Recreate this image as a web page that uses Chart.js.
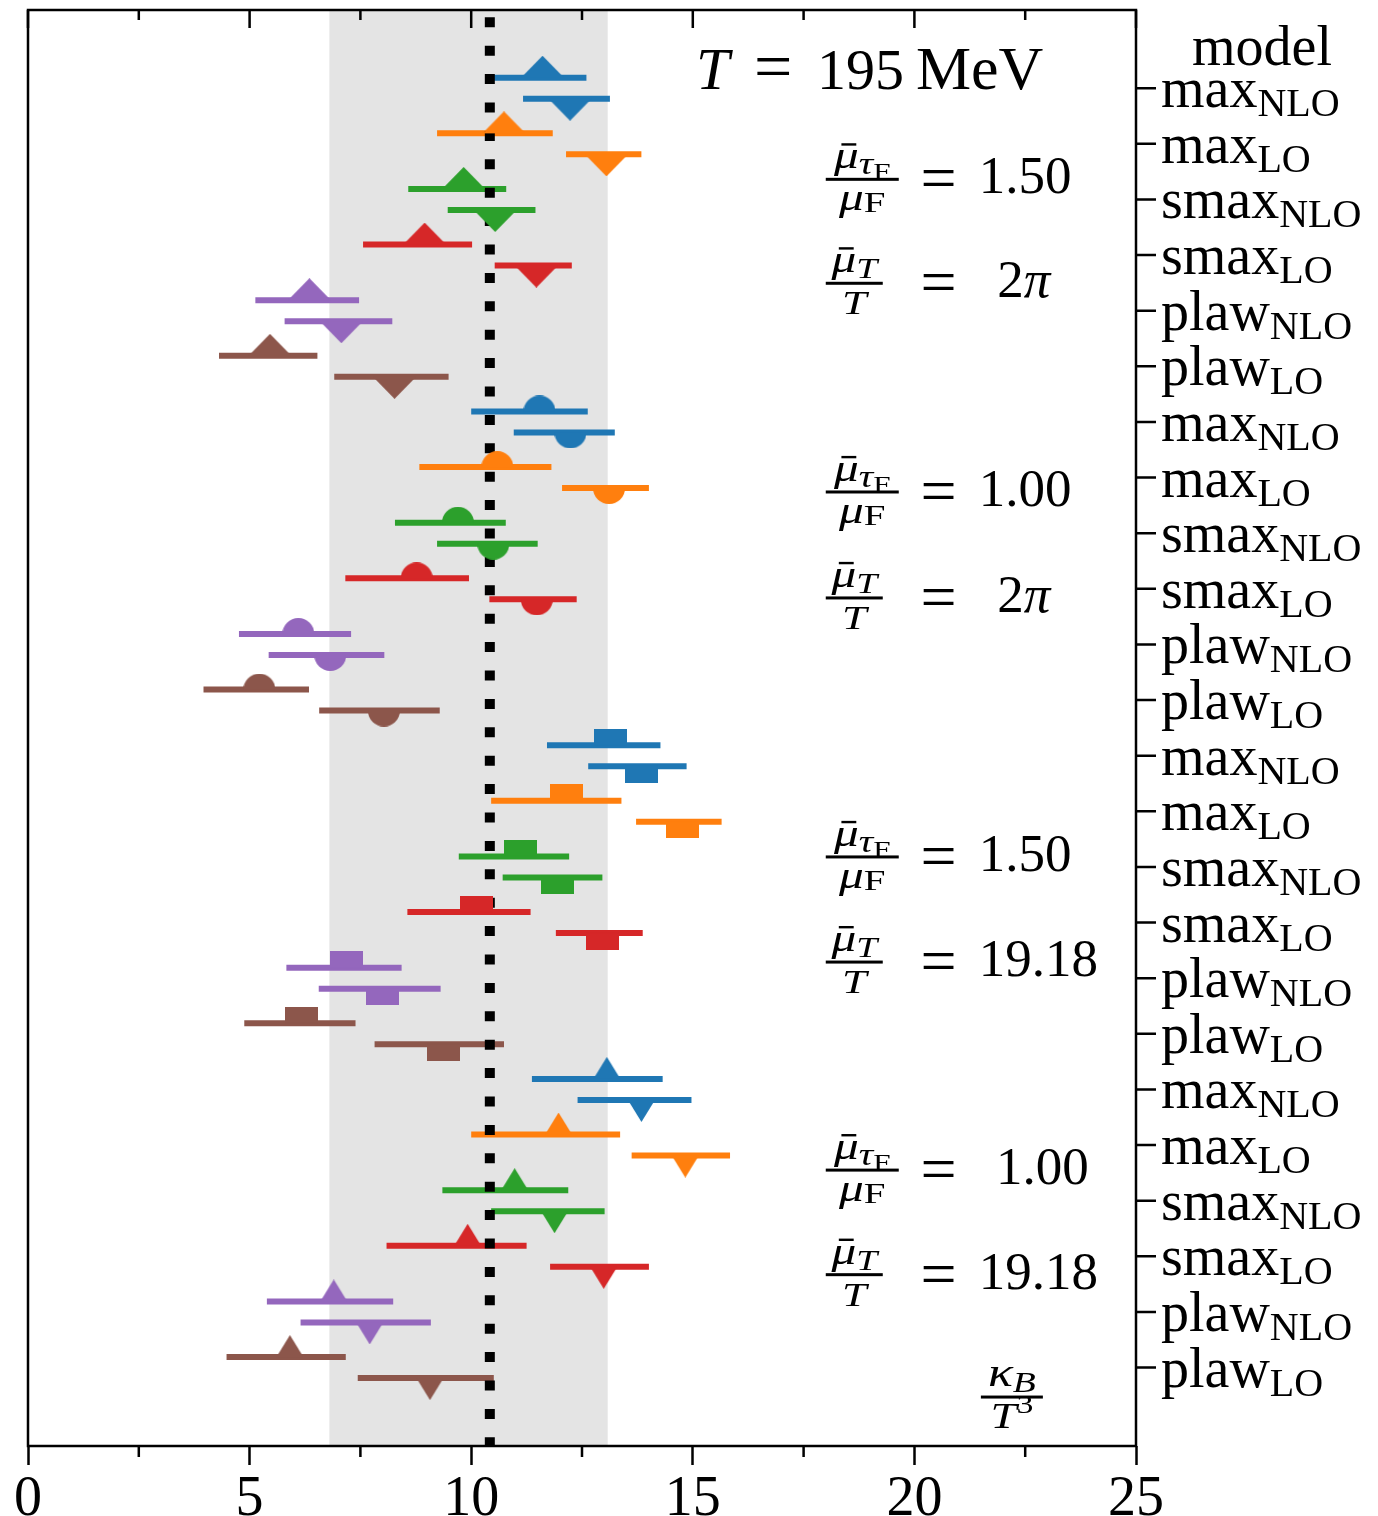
<!DOCTYPE html>
<html>
<head>
<meta charset="utf-8">
<script src="https://cdn.jsdelivr.net/npm/chart.js@4.4.0/dist/chart.umd.min.js"></script>
<style>
  html, body { margin: 0; padding: 0; background: #fff; }
  canvas { display: block; }
</style>
</head>
<body>
<canvas id="kappaChart" width="1378" height="1516"></canvas>
<script>
// models on the right axis (name + subscript), one colour each
const modelBase = ['max', 'max', 'smax', 'smax', 'plaw', 'plaw'];
const modelSub = ['NLO', 'LO', 'NLO', 'LO', 'NLO', 'LO'];
const modelColors = ['#1f77b4', '#ff7f0e', '#2ca02c', '#d62728', '#9467bd', '#8c564b'];

// x axis
const xTicks = [0, 5, 10, 15, 20, 25];
const xMinorTicks = [2.5, 7.5, 12.5, 17.5, 22.5];

// grey band and dotted reference value
const bandLo = 6.80;
const bandHi = 13.08;
const refLine = 10.42;

// 4 panels, 12 entries each: per model first the "up" marker then the "down" marker
// panel 1 : carets
const p1Mid = [11.61, 12.23, 10.74, 13.05, 9.83, 10.54, 8.95, 11.47, 6.35, 7.07, 5.46, 8.27];
const p1Lo  = [10.46, 11.17, 9.23, 12.14, 8.58, 9.47, 7.56, 10.53, 5.13, 5.79, 4.31, 6.91];
const p1Hi  = [12.60, 13.13, 11.84, 13.84, 10.79, 11.45, 10.02, 12.27, 7.47, 8.22, 6.53, 9.49];
// panel 2 : half circles
const p2Mid = [11.54, 12.24, 10.59, 13.11, 9.70, 10.50, 8.77, 11.48, 6.10, 6.82, 5.22, 8.03];
const p2Lo  = [10.00, 10.96, 8.83, 12.05, 8.28, 9.23, 7.16, 10.41, 4.76, 5.43, 3.96, 6.57];
const p2Hi  = [12.63, 13.24, 11.81, 14.01, 10.78, 11.50, 9.95, 12.38, 7.29, 8.04, 6.34, 9.29];
// panel 3 : half squares
const p3Mid = [13.14, 13.84, 12.15, 14.77, 11.11, 11.94, 10.12, 12.96, 7.18, 7.99, 6.18, 9.37];
const p3Lo  = [11.71, 12.64, 10.45, 13.72, 9.72, 10.71, 8.56, 11.91, 5.83, 6.56, 4.88, 7.82];
const p3Hi  = [14.27, 14.86, 13.39, 15.65, 12.21, 12.96, 11.34, 13.87, 8.43, 9.31, 7.39, 10.74];
// panel 4 : narrow triangles
const p4Mid = [13.06, 13.84, 11.97, 14.83, 10.98, 11.88, 9.92, 12.99, 6.90, 7.71, 5.91, 9.07];
const p4Lo  = [11.37, 12.40, 10.00, 13.62, 9.35, 10.45, 8.09, 11.78, 5.39, 6.15, 4.48, 7.44];
const p4Hi  = [14.32, 14.97, 13.36, 15.84, 12.19, 13.01, 11.25, 14.01, 8.24, 9.09, 7.17, 10.51];

// parameter annotations per panel
const ratioTauF = ['1.50', '1.00', '1.50', '1.00'];
const ratioT = ['2π', '2π', '19.18', '19.18'];

const panelMid = [p1Mid, p2Mid, p3Mid, p4Mid];
const panelLo = [p1Lo, p2Lo, p3Lo, p4Lo];
const panelHi = [p1Hi, p2Hi, p3Hi, p4Hi];
const panelShape = ['caret', 'circle', 'square', 'tri'];

const yMin = -1.406, yMax = 24.41;
const pairOff = 0.189;
const FONT = '"Liberation Serif", "Times New Roman", serif';

function rowOf(p, j) {
  return p * 6 + Math.floor(j / 2) + (j % 2 ? pairOff : -pairOff);
}

// half markers as small canvases (center of canvas = data point)
function makeMarker(shape, down, color) {
  const c = document.createElement('canvas');
  let w, h;
  if (shape === 'caret') { w = 43; h = 44; }
  else if (shape === 'tri') { w = 27; h = 44; }
  else if (shape === 'circle') { w = 32; h = 32; }
  else { w = 33; h = 33; }
  c.width = w; c.height = h;
  const g = c.getContext('2d');
  g.fillStyle = color;
  g.beginPath();
  if (shape === 'caret' || shape === 'tri') {
    g.moveTo(0, h / 2);
    g.lineTo(w, h / 2);
    g.lineTo(w / 2, down ? h : 0);
  } else if (shape === 'circle') {
    if (down) g.arc(16, 16, 16, 0, Math.PI);
    else g.arc(16, 16, 16, Math.PI, 2 * Math.PI);
  } else {
    g.rect(0, down ? h / 2 : 0, w, h / 2);
  }
  g.closePath();
  g.fill();
  return c;
}

const datasets = [];

// error bars
panelMid.forEach((mids, p) => {
  mids.forEach((v, j) => {
    const y = rowOf(p, j);
    datasets.push({
      data: [{x: panelLo[p][j], y: y}, {x: panelHi[p][j], y: y}],
      showLine: true,
      borderColor: modelColors[Math.floor(j / 2)],
      borderWidth: 6,
      borderCapStyle: 'butt',
      pointRadius: 0,
      order: 3
    });
  });
});

// dotted reference line
datasets.push({
  data: [{x: refLine, y: yMin}, {x: refLine, y: yMax}],
  showLine: true,
  borderColor: '#000',
  borderWidth: 10,
  borderDash: [10, 18.4],
  borderDashOffset: 21.1,
  borderCapStyle: 'butt',
  pointRadius: 0,
  order: 2
});

// markers
panelMid.forEach((mids, p) => {
  datasets.push({
    data: mids.map((v, j) => ({x: v, y: rowOf(p, j)})),
    pointStyle: mids.map((v, j) => makeMarker(panelShape[p], j % 2 === 1, modelColors[Math.floor(j / 2)])),
    pointRadius: 5,
    showLine: false,
    order: 1
  });
});

// draw runs of text: [text, size, italic, dy, macron]; sx stretches horizontally
function textRuns(ctx, x, y, parts, draw, sx) {
  sx = sx || 1;
  let cx = x;
  parts.forEach(pt => {
    const [t, size, it, dy, bar] = pt;
    ctx.font = (it ? 'italic ' : '') + size + 'px ' + FONT;
    const w = ctx.measureText(t).width * sx;
    if (draw) {
      ctx.save();
      ctx.translate(cx, y + (dy || 0));
      ctx.scale(sx, 1);
      ctx.fillText(t, 0, 0);
      ctx.restore();
      if (bar) {
        ctx.fillRect(cx + w * 0.3, y + (dy || 0) - size * 0.66, w * 0.6, 2.4);
      }
    }
    cx += w;
  });
  return cx - x;
}

function drawFrac(ctx, x, yBar, w, num, den) {
  const sx = 1.3;
  const nw = textRuns(ctx, 0, 0, num, false, sx);
  const dw = textRuns(ctx, 0, 0, den, false, sx);
  ctx.fillRect(x, yBar - 1.5, w, 3);
  textRuns(ctx, x + (w - nw) / 2, yBar - 11, num, true, sx);
  textRuns(ctx, x + (w - dw) / 2, yBar + 31, den, true, sx);
}

const decor = {
  id: 'decor',
  beforeDatasetsDraw(chart) {
    const {ctx, chartArea: a, scales: {x}} = chart;
    ctx.save();
    ctx.fillStyle = 'rgb(228,228,228)';
    const x0 = x.getPixelForValue(bandLo), x1 = x.getPixelForValue(bandHi);
    ctx.fillRect(x0, a.top, x1 - x0, a.bottom - a.top);
    ctx.restore();
  },
  afterDraw(chart) {
    const {ctx, chartArea: a, scales: {x, y}} = chart;
    ctx.save();
    ctx.strokeStyle = '#000';
    ctx.fillStyle = '#000';
    ctx.lineWidth = 2.5;
    ctx.strokeRect(a.left, a.top, a.right - a.left, a.bottom - a.top);

    // ticks: top inward, bottom minor outward, right outward
    ctx.beginPath();
    xTicks.forEach(v => {
      const px = x.getPixelForValue(v);
      ctx.moveTo(px, a.top); ctx.lineTo(px, a.top + 18);
    });
    xMinorTicks.forEach(v => {
      const px = x.getPixelForValue(v);
      ctx.moveTo(px, a.top); ctx.lineTo(px, a.top + 10);
      ctx.moveTo(px, a.bottom); ctx.lineTo(px, a.bottom + 11);
    });
    for (let i = 0; i < 24; i++) {
      const py = y.getPixelForValue(i);
      ctx.moveTo(a.right, py); ctx.lineTo(a.right + 20, py);
    }
    ctx.stroke();

    // right tick labels
    ctx.textBaseline = 'alphabetic';
    ctx.textAlign = 'left';
    for (let i = 0; i < 24; i++) {
      const py = y.getPixelForValue(i) + 19;
      const m = i % 6;
      textRuns(ctx, a.right + 25, py, [[modelBase[m], 56, false, 0], [modelSub[m], 40, false, 9]], true);
    }
    ctx.font = '56px ' + FONT;
    ctx.textAlign = 'center';
    ctx.fillText('model', a.right + 126, y.getPixelForValue(0) - 23);
    ctx.textAlign = 'left';

    // title, pieces placed like the reference spacing
    const tx = x.getPixelForValue(15.07), ty = y.getPixelForValue(0) + 1;
    textRuns(ctx, tx, ty, [['T', 60, true, 0]], true);
    textRuns(ctx, tx + 58, ty, [['=', 68, false, 0]], true);
    textRuns(ctx, tx + 121, ty, [['195', 58, false, 0]], true);
    textRuns(ctx, tx + 220, ty, [['MeV', 62, false, 0]], true);

    // parameter fractions
    const fracRowsA = [1.638, 7.259, 13.82, 19.45];
    const fracRowsB = [3.507, 9.164, 15.71, 21.33];
    const valXA = [21.45, 21.45, 21.45, 21.84];
    const valXB = [21.87, 21.87, 21.45, 21.45];
    const fx = x.getPixelForValue(18.0);
    const eqX = x.getPixelForValue(20.18);
    for (let p = 0; p < 4; p++) {
      let yb = y.getPixelForValue(fracRowsA[p]);
      drawFrac(ctx, fx, yb, 73,
        [['μ', 38, true, 0, true], ['τ', 31, true, 6], ['F', 24, false, 11]],
        [['μ', 38, true, 0], ['F', 30, false, 2]]);
      textRuns(ctx, eqX - 2, yb + 20, [['=', 64, false, 0]], true);
      textRuns(ctx, x.getPixelForValue(valXA[p]), yb + 14, [[ratioTauF[p], 53, false, 0]], true);

      yb = y.getPixelForValue(fracRowsB[p]);
      drawFrac(ctx, fx, yb, 57,
        [['μ', 38, true, 0, true], ['T', 29, true, 6]],
        [['T', 34, true, 0]]);
      textRuns(ctx, eqX - 2, yb + 20, [['=', 64, false, 0]], true);
      const val = ratioT[p];
      if (val === '2π') {
        textRuns(ctx, x.getPixelForValue(valXB[p]), yb + 14, [['2', 53, false, 0], ['π', 53, true, 0]], true);
      } else {
        textRuns(ctx, x.getPixelForValue(valXB[p]), yb + 14, [[val, 53, false, 0]], true);
      }
    }

    // kappa_B / T^3
    drawFrac(ctx, x.getPixelForValue(21.5), y.getPixelForValue(23.53), 62,
      [['κ', 40, true, 0], ['B', 29, true, 6]],
      [['T', 36, true, 0], ['3', 26, false, -15]]);
    ctx.restore();
  }
};

new Chart(document.getElementById('kappaChart'), {
  type: 'scatter',
  data: {datasets: datasets},
  options: {
    responsive: false,
    animation: false,
    devicePixelRatio: 1,
    events: [],
    layout: {padding: {left: 28, top: 10, right: 0, bottom: 0}},
    plugins: {legend: {display: false}, tooltip: {enabled: false}},
    scales: {
      x: {
        type: 'linear',
        min: 0,
        max: 25,
        afterBuildTicks: s => { s.ticks = xTicks.map(v => ({value: v})); },
        afterFit: s => { s.height = 70; },
        border: {display: false},
        grid: {drawOnChartArea: false, drawTicks: true, tickLength: 19, tickWidth: 2.5, color: '#000'},
        ticks: {color: '#000', padding: 2, font: {family: FONT, size: 56}}
      },
      y: {
        type: 'linear',
        position: 'right',
        reverse: true,
        min: yMin,
        max: yMax,
        afterFit: s => { s.width = 242; },
        border: {display: false},
        grid: {display: false},
        ticks: {display: false}
      }
    }
  },
  plugins: [decor]
});
</script>
</body>
</html>
